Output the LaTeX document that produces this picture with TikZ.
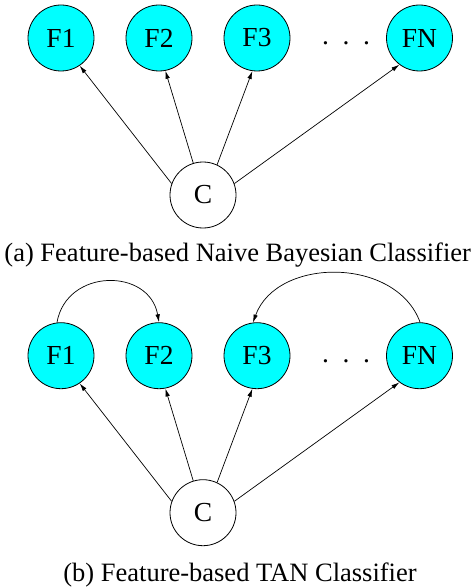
\documentclass[tikz,border=0pt]{standalone}
\usepackage{fontspec}
\setmainfont{Liberation Serif}
\usetikzlibrary{arrows.meta}
\definecolor{featcyan}{rgb}{0,1,1}
\begin{document}
\begin{tikzpicture}[x=1pt,y=-1pt,
  feat/.style={circle,draw=black,fill=featcyan,line width=0.8pt,minimum size=66pt,inner sep=0pt,font=\fontsize{27.5}{27.5}\selectfont},
  cls/.style={circle,draw=black,fill=white,line width=0.8pt,minimum size=66pt,inner sep=0pt,font=\fontsize{27.5}{27.5}\selectfont},
  dotsnode/.style={inner sep=0pt,font=\fontsize{27.5}{27.5}\selectfont},
  conn/.style={line width=0.7pt,-{Latex[length=8pt,width=4.5pt]}},
  captxt/.style={inner sep=0pt,anchor=base,font=\fontsize{26.5}{26.5}\selectfont}]
\useasboundingbox (0,0) rectangle (472,588);
% (a)
\node[feat] (a1) at (61,38) {F1};
\node[feat] (a2) at (159,38) {F2};
\node[feat] (a3) at (257,38) {F3};
\node[feat] (aN) at (419.5,38) {FN};
\node[dotsnode,anchor=base] (adots) at (346,45) {.\hspace{13.6pt}.\hspace{13.6pt}.};
\node[cls] (aC) at (203,195) {C};
\draw[conn] (aC.160) -- (a1.-56);
\draw[conn] (aC.107) -- (a2.-79);
\draw[conn] (aC.65) -- (a3.-98);
\draw[conn] (aC.20) -- (aN.-127);
\node[captxt] (acap) at (237.7,261) {(a) Feature-based Naive Bayesian Classifier};
% (b)
\node[feat] (b1) at (61,355.7) {F1};
\node[feat] (b2) at (159,355.7) {F2};
\node[feat] (b3) at (257,355.7) {F3};
\node[feat] (bN) at (419.5,355.7) {FN};
\node[dotsnode,anchor=base] (bdots) at (346,362.7) {.\hspace{13.6pt}.\hspace{13.6pt}.};
\node[cls] (bC) at (203,512.7) {C};
\draw[conn] (bC.160) -- (b1.-56);
\draw[conn] (bC.107) -- (b2.-79);
\draw[conn] (bC.65) -- (b3.-98);
\draw[conn] (bC.20) -- (bN.-127);
\draw[conn] (b1.97) .. controls +(-80:55.5) and +(-100:55.5) .. (b2.90);
\draw[conn] (bN.89) .. controls +(-110:70) and +(-70:70) .. (b3.97);
\node[captxt] (bcap) at (240,581.5) {(b) Feature-based TAN Classifier};
\end{tikzpicture}
\end{document}
